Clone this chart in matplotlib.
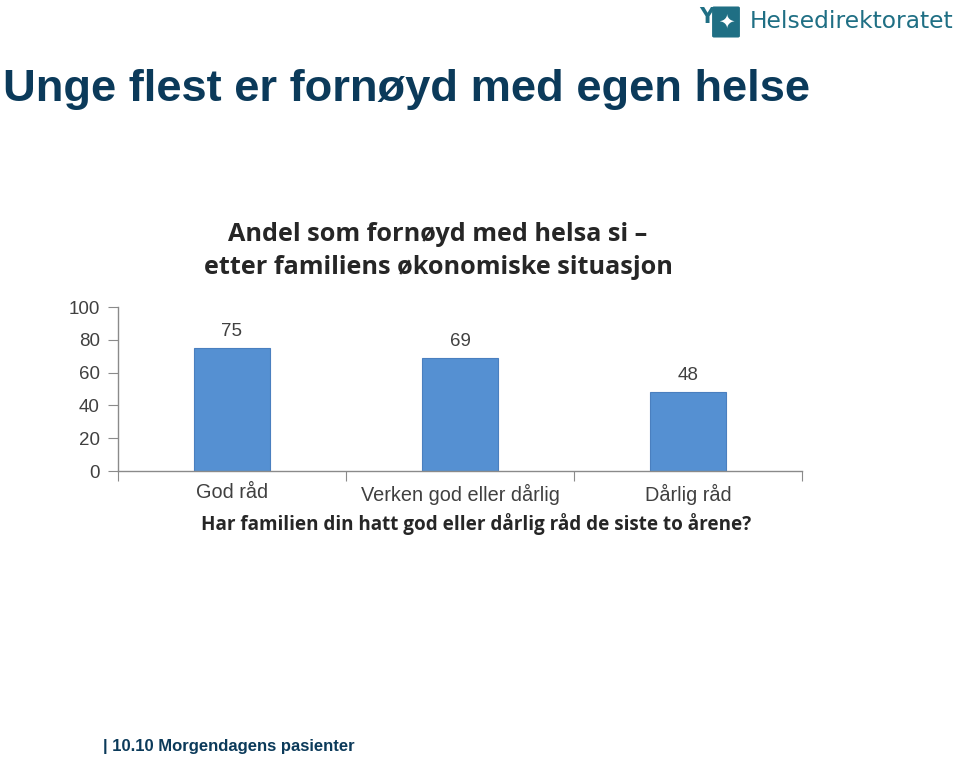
import numpy as np
import matplotlib
matplotlib.use("Agg")
import matplotlib.pyplot as plt
import matplotlib.patches as mpatches

categories = ["God råd", "Verken god eller dårlig", "Dårlig råd"]
values = [75, 69, 48]
yticks = [0, 20, 40, 60, 80, 100]

navy = "#0b3a5a"
teal = "#1f6f84"
bar_color = "#5590d2"
axis_gray = "#8a8a8a"
text_gray = "#404040"

fig = plt.figure(figsize=(9.6, 7.57), dpi=100)
W, H = 960, 757

# slide title and footer
fig.text(3 / W, 1 - 89 / H, "Unge flest er fornøyd med egen helse",
         fontsize=32.6, fontweight="bold", color=navy,
         family="Liberation Sans", va="center", ha="left")
fig.text(103 / W, 1 - 746 / H, "| 10.10 Morgendagens pasienter",
         fontsize=12, fontweight="bold", color=navy,
         family="Liberation Sans", va="center", ha="left")

# logo: icon box + name
logo = mpatches.FancyBboxPatch((714 / W, 1 - 36 / H), 24 / W, 28 / H,
                               boxstyle="round,pad=0.002", transform=fig.transFigure,
                               facecolor=teal, edgecolor="none")
fig.patches.append(logo)
fig.text(699 / W, 1 - 17 / H, "Y", fontsize=15, fontweight="bold", color=teal,
         family="DejaVu Sans", va="center", ha="left")
fig.text(726 / W, 1 - 22 / H, "✦", fontsize=14, color="white",
         family="DejaVu Sans", va="center", ha="center")
fig.text(750 / W, 1 - 22 / H, "Helsedirektoratet", fontsize=16.8, color=teal,
         family="DejaVu Sans Condensed", va="center", ha="left")

# chart title
fig.text(438 / W, 1 - 251 / H,
         "Andel som fornøyd med helsa si –\netter familiens økonomiske situasjon",
         fontsize=18.2, fontweight="bold", color="#262626", family="Open Sans",
         va="center", ha="center", linespacing=1.38)

ax = fig.add_axes([118 / W, 1 - 471 / H, (802 - 118) / W, (471 - 307) / H])
x = np.arange(len(categories))
bars = ax.bar(x, values, width=0.335, color=bar_color, edgecolor="#4a7fbf", linewidth=0.8)
for xi, v in zip(x, values):
    ax.text(xi, v + 5, f"{v}", ha="center", va="bottom", fontsize=13.5,
            color=text_gray, family="Liberation Sans")

ax.set_xlim(-0.5, len(categories) - 0.5)
ax.set_ylim(0, 100)
ax.set_yticks(yticks)
ax.set_yticklabels([str(t) for t in yticks], fontsize=13.5, color=text_gray,
                   family="Liberation Sans")
ax.set_xticks(np.arange(len(categories) + 1) - 0.5)
ax.set_xticklabels([])
ax.set_xticks(x, minor=True)
ax.set_xticklabels(categories, minor=True, fontsize=14.3, color=text_gray,
                   family="Liberation Sans")
ax.tick_params(axis="x", which="major", length=7, color=axis_gray, direction="out")
ax.tick_params(axis="x", which="minor", length=0, pad=9)
ax.tick_params(axis="y", length=7, color=axis_gray, direction="out", pad=6)
for side in ["top", "right"]:
    ax.spines[side].set_visible(False)
for side in ["left", "bottom"]:
    ax.spines[side].set_color(axis_gray)
    ax.spines[side].set_linewidth(1)

fig.text(476 / W, 1 - 524 / H,
         "Har familien din hatt god eller dårlig råd de siste to årene?",
         fontsize=13.6, fontweight="bold", color="#262626", family="Open Sans",
         va="center", ha="center")

fig.savefig("out.png", dpi=100)
